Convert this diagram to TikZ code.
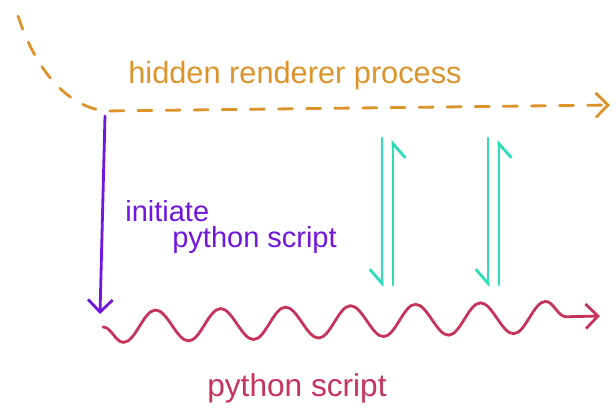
\documentclass[tikz,border=0pt]{standalone}
\usepackage{fontspec}
\setmainfont{Liberation Sans}
\usetikzlibrary{arrows.meta}
\usetikzlibrary{decorations.pathmorphing}
\definecolor{rendcol}{RGB}{219,147,42}
\definecolor{initcol}{RGB}{112,22,222}
\definecolor{msgcol}{RGB}{44,222,182}
\definecolor{pycol}{RGB}{198,52,92}
\tikzset{
  lbl/.style= {font=\fontsize{16.5}{18}\selectfont, inner sep=0, anchor=west},
  flow/.style= {line width=1.6pt, line cap=round},
  opentip/.style= {-{Straight Barb[length=7pt,width=14pt]}},
  halftip/.style= {-{Straight Barb[harpoon,swap,length=8pt,width=14pt]}},
}

\begin{document}
\begin{tikzpicture}[x=0.02cm, y=-0.02cm]
  \useasboundingbox (0,0) rectangle (616,409);

  \coordinate (rstart) at (18,16) ;
  \coordinate (rbend) at (105,111) ;
  \coordinate (rend) at (610,105) ;
  \coordinate (ptop) at (105,116) ;
  \coordinate (pbot) at (100,314) ;
  \coordinate (wstart) at (103,327) ;
  \coordinate (wend) at (600,316) ;
  \foreach \n/\x/\y in {a/382/393, b/488/499} {
    \coordinate (down\n top) at (\x,138) ;
    \coordinate (down\n bot) at (\x,287) ;
    \coordinate (up\n bot) at (\y,285) ;
    \coordinate (up\n top) at (\y,140) ;
  }

  \node [lbl, rendcol, font=\fontsize{17.5}{20}\selectfont] (hidden) at (128,76) {hidden renderer process} ;
  \node [lbl, initcol] (initiate) at (125,211) {initiate} ;
  \node [lbl, initcol] (pyinit) at (172,240) {python script} ;
  \node [lbl, pycol, font=\fontsize{18}{20}\selectfont] (pyscript) at (207,388) {python script} ;

  % renderer process
  \draw [flow, rendcol, dash pattern=on 8pt off 8pt, opentip]
    (rstart) .. controls (36,70) and (66,106) .. (rbend) -- (rend) ;

  % start the script
  \draw [flow, initcol, opentip] (ptop) -- (pbot) ;

  % python script process
  \draw [flow, pycol, opentip, decorate,
    decoration={snake, segment length=37pt, amplitude=9pt, mirror, post length=8pt}]
    (wstart) -- (wend) ;

  % messages
  \foreach \n in {a, b} {
    \draw [flow, msgcol, halftip] (down\n top) -- (down\n bot) ;
    \draw [flow, msgcol, halftip] (up\n bot) -- (up\n top) ;
  }
\end{tikzpicture}
\end{document}
